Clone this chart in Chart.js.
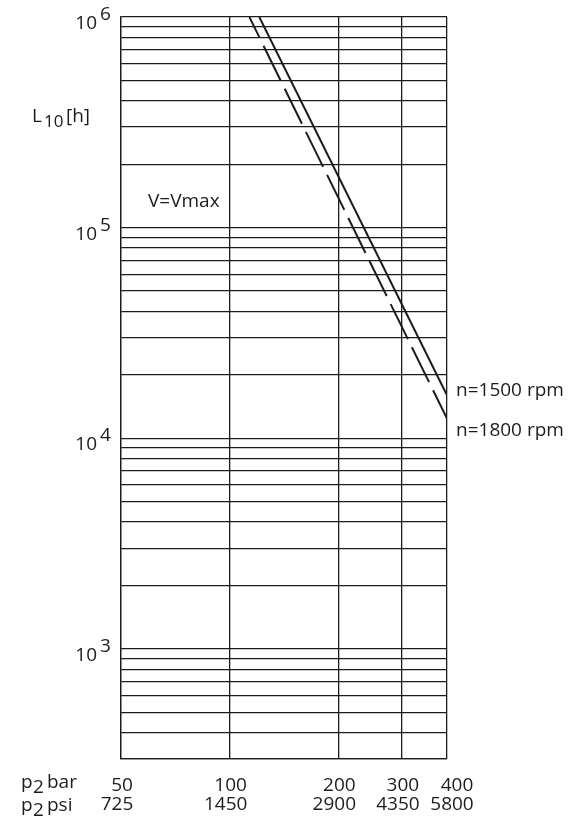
<!DOCTYPE html>
<html>
<head>
<meta charset="utf-8">
<script src="https://cdn.jsdelivr.net/npm/chart.js@4/dist/chart.umd.min.js"></script>
<style>
  html, body { margin: 0; padding: 0; background: #fff; }
  canvas { display: block; }
</style>
</head>
<body>
<canvas id="chart" width="578" height="830"></canvas>
<script>
// Pressure axis (bar) with the matching psi values
const pressureBar = [50, 100, 200, 300, 400];
const barLabels = ['50', '100', '200', '300', '400'];
const psiLabels = ['725', '1450', '2900', '4350', '5800'];

// Life axis: decades that get a 10^n label, and the range shown
const lifeDecades = [3, 4, 5, 6];
const lifeMin = 300;
const lifeMax = 1000000;

// Bearing life L10 [h] against p2 [bar], V = Vmax
const life1500 = [
  { x: 120.8, y: 1000000 },
  { x: 400, y: 16000 }
];
const life1800 = [
  { x: 113.4, y: 1000000 },
  { x: 400, y: 12400 }
];

const INK = '#1c1c1c';
const FONT = '"Open Sans", "Noto Sans", sans-serif';

// horizontal grid: every 1..9 x 10^n step inside the range
const lifeGrid = [];
for (let e = 2; e <= 6; e++) {
  for (let k = 1; k <= 9; k++) {
    const v = k * Math.pow(10, e);
    if (v >= lifeMin && v <= lifeMax) lifeGrid.push(v);
  }
}

const textPlugin = {
  id: 'chartText',
  afterDraw(chart) {
    const c = chart.ctx;
    const xs = chart.scales.x;
    const ys = chart.scales.y;
    const area = chart.chartArea;
    c.save();
    c.fillStyle = INK;
    c.textBaseline = 'alphabetic';
    c.font = '19px ' + FONT;

    // 10^n labels on the life axis
    lifeDecades.forEach(n => {
      const py = ys.getPixelForValue(Math.pow(10, n));
      c.textAlign = 'right';
      c.fillText('10', area.left - 24, py + 12);
      c.textAlign = 'left';
      c.fillText(String(n), area.left - 21, py + 3);
    });

    // pressure labels, bar and psi rows
    c.textAlign = 'center';
    pressureBar.forEach((v, i) => {
      const px = xs.getPixelForValue(v);
      const shift = i === pressureBar.length - 1 ? 9 : 0;
      c.fillText(barLabels[i], px + shift + 1, area.bottom + 32);
      c.fillText(psiLabels[i], px + shift - 4, area.bottom + 51);
    });

    // axis names
    c.textAlign = 'left';
    c.fillText('p', 21, area.bottom + 29);
    c.fillText('2', 33, area.bottom + 34);
    c.fillText('bar', 47, area.bottom + 29);
    c.fillText('p', 21, area.bottom + 52);
    c.fillText('2', 33, area.bottom + 57);
    c.fillText('psi', 47, area.bottom + 52);

    c.fillText('L', 32, 122);
    c.fillText('[h]', 66, 122);
    c.font = '17px ' + FONT;
    c.fillText('10', 44, 127);
    c.font = '19px ' + FONT;

    c.fillText('V=Vmax', 148, 207);

    // curve names next to the line ends
    const end1500 = ys.getPixelForValue(life1500[life1500.length - 1].y);
    const end1800 = ys.getPixelForValue(life1800[life1800.length - 1].y);
    c.fillText('n=1500 rpm', area.right + 9, end1500 + 1);
    c.fillText('n=1800 rpm', area.right + 9, end1800 + 17);
    c.restore();
  }
};

new Chart(document.getElementById('chart'), {
  type: 'scatter',
  data: {
    datasets: [
      {
        label: 'n=1500 rpm',
        data: life1500,
        showLine: true,
        borderColor: INK,
        borderWidth: 2,
        pointRadius: 0
      },
      {
        label: 'n=1800 rpm',
        data: life1800,
        showLine: true,
        borderColor: INK,
        borderWidth: 2,
        borderDash: [39, 9],
        borderDashOffset: 16,
        pointRadius: 0
      }
    ]
  },
  options: {
    responsive: false,
    animation: false,
    devicePixelRatio: 1,
    layout: { padding: { left: 121, right: 131, top: 17, bottom: 71 } },
    plugins: { legend: { display: false }, tooltip: { enabled: false } },
    scales: {
      x: {
        type: 'logarithmic',
        min: 50,
        max: 400,
        afterBuildTicks: s => { s.ticks = pressureBar.map(v => ({ value: v })); },
        ticks: { display: false },
        grid: { color: INK, lineWidth: 1.3, drawTicks: false },
        border: { display: true, color: INK, width: 1.3 }
      },
      y: {
        type: 'logarithmic',
        min: lifeMin,
        max: lifeMax,
        afterBuildTicks: s => { s.ticks = lifeGrid.map(v => ({ value: v })); },
        ticks: { display: false },
        grid: { color: INK, lineWidth: 1.3, drawTicks: false },
        border: { display: true, color: INK, width: 1.3 }
      }
    }
  },
  plugins: [textPlugin]
});
</script>
</body>
</html>
